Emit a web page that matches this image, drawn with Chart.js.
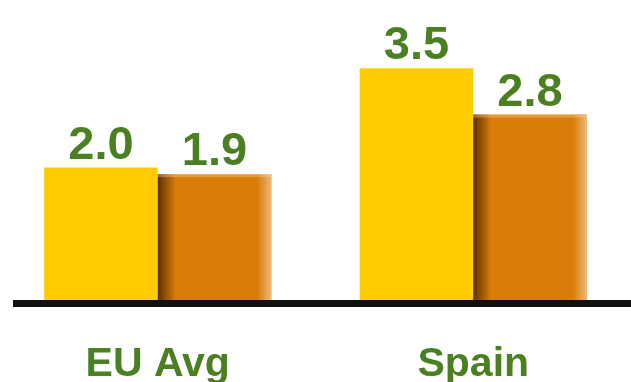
<!DOCTYPE html>
<html>
<head>
<meta charset="utf-8">
<script src="https://cdn.jsdelivr.net/npm/chart.js@4/dist/chart.umd.min.js"></script>
<style>
  html, body { margin: 0; padding: 0; background: #fff; }
  #wrap { width: 631px; height: 382px; position: relative; }
</style>
</head>
<body>
<div id="wrap"><canvas id="rateChart"></canvas></div>
<script>
// categories and the two series
var categories = ['EU Avg', 'Spain'];
var firstValues = [2.0, 3.5];
var secondValues = [1.9, 2.8];

var green = '#4a7f22';

// thick black base line under the bars
var baseLine = {
  id: 'baseLine',
  afterDatasetsDraw: function(chart) {
    var ctx = chart.ctx;
    var area = chart.chartArea;
    ctx.save();
    ctx.fillStyle = '#111111';
    ctx.fillRect(13, area.bottom, area.right - 13, 7);
    ctx.restore();
  }
};

// shadow on the left and soft edge on the right of the orange bars
var barShade = {
  id: 'barShade',
  afterDatasetsDraw: function(chart) {
    var ctx = chart.ctx;
    var meta = chart.getDatasetMeta(1);
    ctx.save();
    meta.data.forEach(function(bar) {
      var left = bar.x - bar.width / 2;
      var right = bar.x + bar.width / 2;
      var top = bar.y;
      var h = bar.base - bar.y;

      var g1 = ctx.createLinearGradient(left, 0, left + 18, 0);
      g1.addColorStop(0, 'rgba(80,40,0,0.9)');
      g1.addColorStop(1, 'rgba(80,40,0,0)');
      ctx.fillStyle = g1;
      ctx.fillRect(left, top, 18, h);

      var g2 = ctx.createLinearGradient(right - 14, 0, right, 0);
      g2.addColorStop(0, 'rgba(240,200,150,0)');
      g2.addColorStop(1, 'rgba(240,200,150,0.8)');
      ctx.fillStyle = g2;
      ctx.fillRect(right - 14, top, 14, h);

      ctx.fillStyle = 'rgba(255,215,160,0.35)';
      ctx.fillRect(left, top, bar.width, 3);
    });
    ctx.restore();
  }
};

// numbers above each bar
var valueLabels = {
  id: 'valueLabels',
  afterDatasetsDraw: function(chart) {
    var ctx = chart.ctx;
    ctx.save();
    ctx.fillStyle = green;
    ctx.font = 'bold 47px "Liberation Sans", Arial, sans-serif';
    ctx.textAlign = 'center';
    ctx.textBaseline = 'alphabetic';
    chart.data.datasets.forEach(function(ds, di) {
      var meta = chart.getDatasetMeta(di);
      meta.data.forEach(function(bar, i) {
        ctx.fillText(ds.data[i].toFixed(1), bar.x, bar.y - 9);
      });
    });
    ctx.restore();
  }
};

var ctx = document.getElementById('rateChart').getContext('2d');
var chart = new Chart(ctx, {
  type: 'bar',
  data: {
    labels: categories,
    datasets: [{
      data: firstValues,
      backgroundColor: '#ffcc00',
      borderWidth: 0
    }, {
      data: secondValues,
      backgroundColor: '#d97c0a',
      borderWidth: 0
    }]
  },
  options: {
    responsive: true,
    maintainAspectRatio: false,
    animation: false,
    layout: { padding: { top: 2, left: 0, right: 0, bottom: 0 } },
    plugins: {
      legend: { display: false },
      tooltip: { enabled: false }
    },
    scales: {
      x: {
        grid: { display: false, drawTicks: false },
        border: { display: false },
        ticks: {
          color: green,
          padding: 40,
          maxRotation: 0,
          font: { family: '"Liberation Sans", Arial, sans-serif', size: 41, weight: 'bold' }
        },
        afterFit: function(scale) {
          scale.height = 82;
        }
      },
      y: {
        display: false,
        min: 0,
        max: 4.5
      }
    },
    datasets: {
      bar: { categoryPercentage: 0.72, barPercentage: 1.0 }
    }
  },
  plugins: [baseLine, barShade, valueLabels]
});
</script>
</body>
</html>
